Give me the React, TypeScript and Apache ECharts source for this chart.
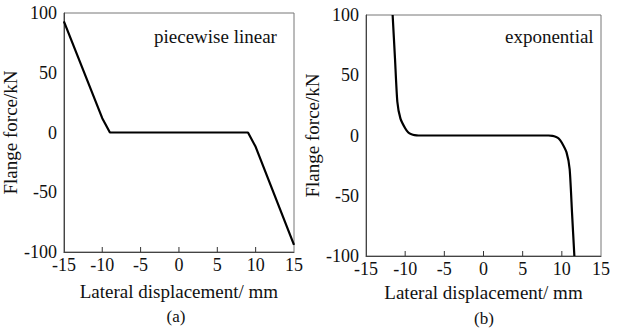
import React, { useEffect, useRef } from "react";
import * as echarts from "echarts";

const xTicks = [-15, -10, -5, 0, 5, 10, 15];
const yTicks = [-100, -50, 0, 50, 100];

// (a) piecewise linear model
const linearX = [-15, -10, -9, 9, 10, 15];
const linearY = [93, 12, 0, 0, -12, -94];

// (b) exponential model
const expX = [-11.6, -11.3, -11.0, -10.6, -10.0, -9.6, -9.2, -8.8, -8.3, 8.3, 8.8, 9.2, 9.6, 10.0, 10.6, 11.0, 11.3, 11.6];
const expY = [100, 64, 28, 14, 6, 2.5, 1, 0.3, 0, 0, -0.3, -1, -2.5, -6, -14, -28, -64, -100];

const panelLabels = ["(a)", "(b)"];
const curveNames = ["piecewise linear", "exponential"];
const xName = "Lateral displacement/ mm";
const yName = "Flange force/kN";

const FONT = "Liberation Serif";

export default function App() {
  const ref = useRef<HTMLDivElement>(null);
  useEffect(() => {
    if (!ref.current) return;
    const chart = echarts.init(ref.current, null, { renderer: "svg" });
    const axisColor = "#444";
    const mkX = (gi: number, gap: number) => ({
      type: "value",
      gridIndex: gi,
      min: xTicks[0],
      max: xTicks[xTicks.length - 1],
      interval: 5,
      name: xName,
      nameLocation: "middle",
      nameGap: gap,
      nameTextStyle: { fontFamily: FONT, fontSize: 19, color: "#111" },
      axisLine: { show: true, onZero: false, lineStyle: { color: axisColor, width: 1 } },
      axisTick: { show: false },
      axisLabel: { margin: 4, fontFamily: FONT, fontSize: 18, color: "#111", formatter: (v: number) => String(v) },
      splitLine: { show: false },
    });
    const mkY = (gi: number, gap: number) => ({
      type: "value",
      gridIndex: gi,
      min: yTicks[0],
      max: yTicks[yTicks.length - 1],
      interval: 50,
      name: yName,
      nameLocation: "middle",
      nameGap: gap,
      nameRotate: 90,
      nameTextStyle: { fontFamily: FONT, fontSize: 19, color: "#111" },
      axisLine: { show: true, onZero: false, lineStyle: { color: axisColor, width: 1 } },
      axisTick: { show: false },
      axisLabel: { margin: 7, fontFamily: FONT, fontSize: 18, color: "#111", formatter: (v: number) => String(v) },
      splitLine: { show: false },
    });
    const tickData = xTicks.slice(1, -1).map((x) => [x, yTicks[0]]);
    const tickSeries = (gi: number) => ({
      type: "custom",
      xAxisIndex: gi,
      yAxisIndex: gi,
      silent: true,
      data: tickData,
      renderItem: (params: any, api: any) => {
        const p = api.coord([api.value(0), api.value(1)]);
        return {
          type: "line",
          shape: { x1: p[0], y1: p[1], x2: p[0], y2: p[1] - 5 },
          style: { stroke: "#333", lineWidth: 1 },
        };
      },
    });
    chart.setOption({
      animation: false,
      backgroundColor: "#fff",
      grid: [
        { left: 61, top: 13, width: 233, height: 239, show: true, borderColor: "#777", borderWidth: 1, containLabel: false },
        { left: 366, top: 15, width: 235, height: 241, show: true, borderColor: "#777", borderWidth: 1, containLabel: false },
      ],
      xAxis: [mkX(0, 30), mkX(1, 26)],
      yAxis: [mkY(0, 30), mkY(1, 32)],
      series: [
        tickSeries(0),
        tickSeries(1),
        {
          type: "line",
          xAxisIndex: 0,
          yAxisIndex: 0,
          data: linearX.map((x, i) => [x, linearY[i]]),
          showSymbol: false,
          lineStyle: { color: "#000", width: 2.2 },
        },
        {
          type: "line",
          xAxisIndex: 1,
          yAxisIndex: 1,
          data: expX.map((x, i) => [x, expY[i]]),
          showSymbol: false,
          smooth: 0.2,
          lineStyle: { color: "#000", width: 2.2 },
        },
      ],
      graphic: [
        { type: "text", left: 154, top: 27, style: { text: curveNames[0], font: `19px "${FONT}"`, fill: "#111" } },
        { type: "text", left: 505, top: 27, style: { text: curveNames[1], font: `19px "${FONT}"`, fill: "#111" } },
        { type: "text", x: 176, y: 316, style: { text: panelLabels[0], font: `17px "${FONT}"`, fill: "#111", align: "center", verticalAlign: "middle" } },
        { type: "text", x: 484, y: 318, style: { text: panelLabels[1], font: `17px "${FONT}"`, fill: "#111", align: "center", verticalAlign: "middle" } },
      ],
    });
    return () => chart.dispose();
  }, []);
  return <div ref={ref} style={{ position: "absolute", left: 0, top: 0, width: 617, height: 331 }} />;
}
